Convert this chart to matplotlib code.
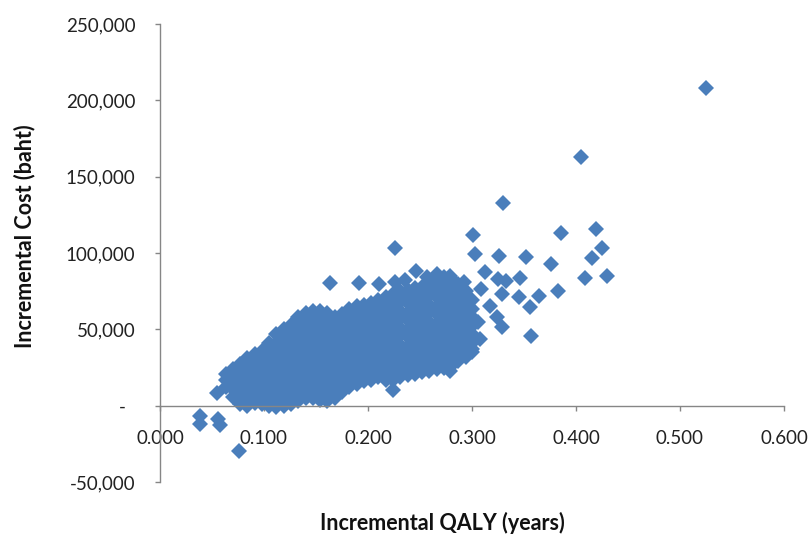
import numpy as np
import matplotlib.pyplot as plt
from matplotlib.ticker import FuncFormatter

plt.rcParams['font.family'] = ['Lato', 'DejaVu Sans']

# dense part of the cloud, read column by column (QALY, cost in thousand baht)
cloud_qaly = [0.063, 0.070, 0.077, 0.084, 0.091, 0.098, 0.105, 0.112, 0.119, 0.126,
              0.133, 0.140, 0.147, 0.154, 0.161, 0.168, 0.175, 0.182, 0.189, 0.196,
              0.203, 0.210, 0.217, 0.224, 0.231, 0.238, 0.245, 0.252, 0.259, 0.266,
              0.273, 0.280, 0.287, 0.294, 0.300]
cloud_cost_k = [
    [12, 17, 21],
    [6, 11, 16, 21, 24],
    [1, 6, 12, 17, 22, 27],
    [0, 4, 9, 14, 20, 25, 31],
    [2, 7, 12, 17, 23, 28, 34],
    [1, 5, 10, 16, 21, 26, 31, 36],
    [0, 5, 11, 16, 22, 27, 32, 37, 41],
    [-1, 3, 8, 14, 19, 25, 30, 35, 41, 47],
    [0, 5, 11, 16, 22, 27, 33, 38, 44, 50],
    [1, 6, 12, 17, 23, 28, 34, 39, 45, 50, 53],
    [3, 8, 14, 19, 25, 30, 36, 41, 47, 52, 58],
    [5, 11, 16, 22, 27, 33, 38, 44, 49, 55, 61],
    [5, 8, 13, 19, 24, 30, 35, 41, 46, 52, 57, 62],
    [4, 10, 15, 21, 26, 32, 37, 43, 48, 54, 59, 62],
    [3, 7, 13, 18, 24, 29, 35, 40, 46, 51, 57, 61],
    [5, 10, 16, 21, 27, 32, 38, 43, 49, 54, 58],
    [9, 13, 19, 24, 30, 35, 41, 46, 52, 57, 60],
    [12, 17, 22, 28, 33, 39, 44, 50, 55, 60, 63],
    [14, 20, 25, 31, 36, 42, 47, 53, 58, 63, 65],
    [16, 22, 27, 33, 38, 44, 49, 55, 60, 66],
    [17, 20, 25, 31, 36, 42, 47, 53, 58, 64, 67],
    [19, 24, 29, 35, 40, 46, 51, 57, 62, 67, 69],
    [17, 22, 27, 33, 38, 44, 49, 55, 60, 66, 71],
    [17, 20, 25, 31, 36, 42, 47, 53, 58, 64, 69, 73],
    [19, 24, 29, 35, 40, 46, 51, 57, 62, 68, 73, 75],
    [20, 23, 28, 34, 39, 45, 50, 56, 61, 67, 72, 76],
    [21, 26, 31, 37, 42, 48, 53, 59, 64, 70, 75, 77],
    [22, 25, 30, 36, 41, 47, 52, 58, 63, 69, 74, 78],
    [23, 28, 33, 39, 44, 50, 55, 61, 66, 72, 77, 80],
    [24, 27, 32, 38, 43, 49, 54, 60, 65, 71, 76, 82],
    [25, 30, 35, 41, 46, 52, 57, 63, 68, 74, 79, 84],
    [26, 29, 34, 40, 45, 51, 56, 62, 67, 73, 78, 83],
    [29, 33, 38, 44, 49, 55, 60, 66, 71, 77, 80],
    [32, 37, 42, 48, 53, 59, 64, 70, 75],
    [37, 41, 47, 52, 58, 63, 69],
]

# scattered points outside the dense cloud
outlier_qaly = [0.0385, 0.0385, 0.056, 0.058, 0.076, 0.055,
                0.163, 0.191, 0.211, 0.226, 0.226, 0.246, 0.236, 0.257,
                0.266, 0.279, 0.292, 0.224, 0.279,
                0.301, 0.303, 0.326, 0.352, 0.376, 0.3125, 0.325, 0.333,
                0.346, 0.383, 0.364, 0.345, 0.356, 0.3285, 0.3285, 0.357,
                0.308, 0.300, 0.317, 0.309, 0.324, 0.306,
                0.525, 0.405, 0.330, 0.386, 0.419, 0.425, 0.415, 0.409, 0.430]
outlier_cost_k = [-6.5, -11.7, -8.5, -12.4, -29.4, 8.5,
                  80.6, 80.6, 80.0, 103.1, 81.0, 88.0, 82.0, 84.0,
                  86.0, 85.0, 80.7, 10.0, 23.0,
                  111.5, 99.2, 98.1, 97.4, 92.7, 87.7, 82.9, 81.8,
                  83.3, 75.3, 72.0, 71.0, 64.4, 73.0, 51.4, 45.9,
                  43.7, 35.0, 65.5, 76.4, 57.9, 54.6,
                  208.0, 163.0, 132.5, 113.1, 115.5, 103.3, 97.0, 83.3, 84.8]

x_ticks = [0.0, 0.1, 0.2, 0.3, 0.4, 0.5, 0.6]
y_ticks = [-50000, 0, 50000, 100000, 150000, 200000, 250000]

qaly = []
cost = []
for xq, col in zip(cloud_qaly, cloud_cost_k):
    for c in col:
        qaly.append(xq)
        cost.append(c * 1000)
qaly += outlier_qaly
cost += [c * 1000 for c in outlier_cost_k]

fig = plt.figure(figsize=(8.11, 5.35), dpi=100)
ax = fig.add_axes([160 / 811, 1 - 482 / 535, 624 / 811, 458 / 535])

ax.plot(qaly, cost, 'D', color='#4A7EBB', ms=8.6, mew=0, linestyle='none')

ax.set_xlim(0, 0.6)
ax.set_ylim(-50000, 250000)
ax.set_xticks(x_ticks)
ax.set_yticks(y_ticks)
ax.xaxis.set_major_formatter(FuncFormatter(lambda v, p: f'{v:.3f}'))
ax.yaxis.set_major_formatter(FuncFormatter(lambda v, p: '-  ' if v == 0 else f'{v:,.0f}'))

ax.spines['top'].set_visible(False)
ax.spines['right'].set_visible(False)
ax.spines['bottom'].set_position(('data', 0))
for s in ('left', 'bottom'):
    ax.spines[s].set_color('#868686')
    ax.spines[s].set_linewidth(1.0)

ax.tick_params(axis='both', colors='#868686', labelcolor='#222222',
               direction='out', length=3.6, width=1.0, labelsize=13.5)
ax.tick_params(axis='y', pad=14)
ax.tick_params(axis='x', pad=14)

fig.text(442 / 811, 1 - 523 / 535, 'Incremental QALY (years)', ha='center', va='center',
         fontsize=15.5, fontweight='bold', color='#111111')
fig.text(25 / 811, 1 - 236 / 535, 'Incremental Cost (baht)', ha='center', va='center',
         rotation=90, fontsize=15.5, fontweight='bold', color='#111111')

fig.savefig('out.png', dpi=100)
